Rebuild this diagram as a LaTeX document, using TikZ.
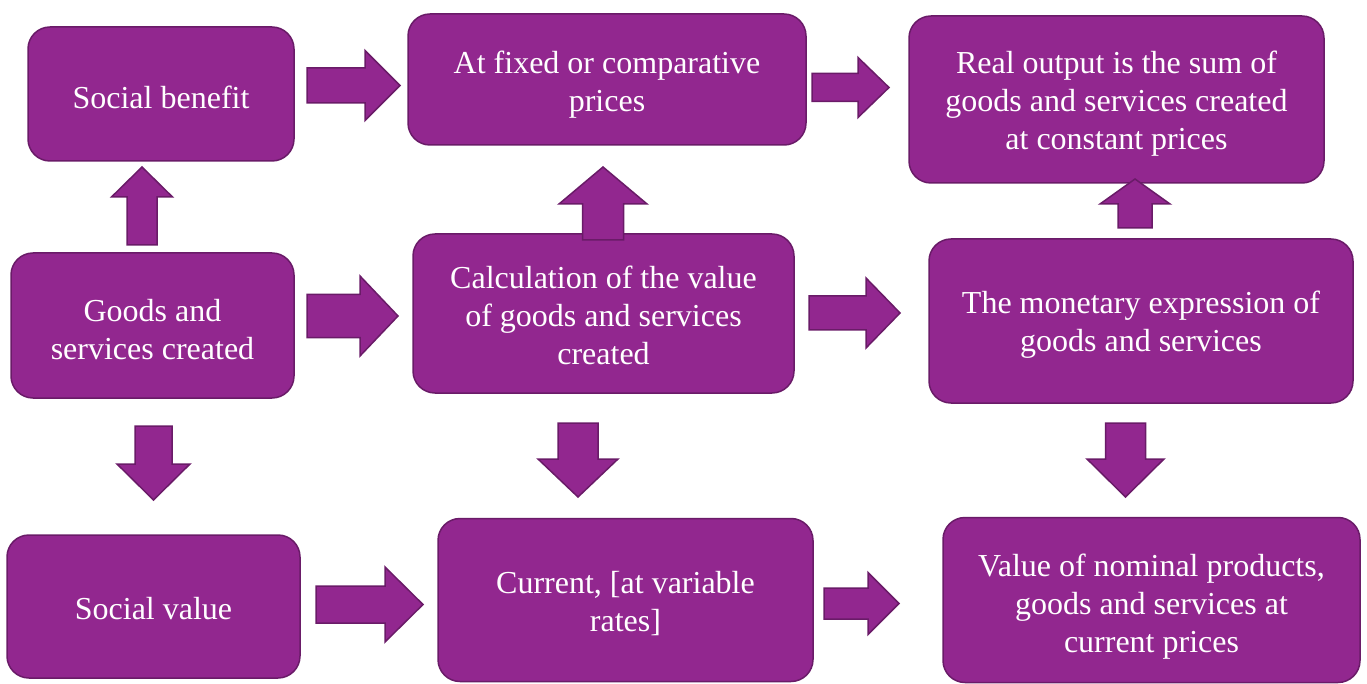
\documentclass[tikz,border=0pt]{standalone}
\usepackage{fontspec}
\setmainfont{Liberation Serif}
\definecolor{boxfill}{HTML}{92278F}
\definecolor{boxline}{HTML}{6A1B68}
\newcommand{\harr}[6]{\draw[barrow] (#1,#4-#5) -- (#2,#4-#5) -- (#2,#4-#6) -- (#3,#4) -- (#2,#4+#6) -- (#2,#4+#5) -- (#1,#4+#5) -- cycle;}
\newcommand{\varr}[6]{\draw[barrow] (#4-#5,#1) -- (#4-#5,#2) -- (#4-#6,#2) -- (#4,#3) -- (#4+#6,#2) -- (#4+#5,#2) -- (#4+#5,#1) -- cycle;}
\begin{document}
\begin{tikzpicture}[x=1pt,y=-1pt,
  box/.style={draw=boxline, fill=boxfill, line width=1.5pt, rounded corners=22pt, inner sep=0pt},
  lbl/.style={text=white, align=center, inner sep=0pt,
    font=\fontsize{32}{38}\selectfont},
  barrow/.style={draw=boxline, fill=boxfill, line width=1.5pt, line join=miter}]
\useasboundingbox (0,0) rectangle (1367,684);
% boxes
\node[box, minimum width=266pt, minimum height=134pt] (sb) at (161,94) {};
\node[box, minimum width=398pt, minimum height=131pt] (af) at (607,79.5) {};
\node[box, minimum width=415pt, minimum height=167pt] (ro) at (1116.5,99.5) {};
\node[box, minimum width=283pt, minimum height=145pt] (gs) at (152.5,325.5) {};
\node[box, minimum width=381pt, minimum height=159pt] (ca) at (603.5,313.5) {};
\node[box, minimum width=424pt, minimum height=164pt] (me) at (1141,321) {};
\node[box, minimum width=293pt, minimum height=143pt] (sv) at (153.5,606.5) {};
\node[box, minimum width=375pt, minimum height=163pt] (cu) at (625.5,600) {};
\node[box, minimum width=417pt, minimum height=165pt] (vn) at (1151.5,600) {};
% labels
\node[lbl] at ([yshift=-3pt]sb.center) {Social benefit};
\node[lbl] at ([yshift=-5pt]af.center) {At fixed or comparative\\prices};
\node[lbl] at ([yshift=-4pt]ro.center) {Real output is the sum of\\goods and services created\\at constant prices};
\node[lbl] at ([yshift=-4pt]gs.center) {Goods and\\services created};
\node[lbl] at ([yshift=-2pt]ca.center) {Calculation of the value\\of goods and services\\created};
\node[lbl] at ([yshift=-4pt]me.center) {The monetary expression of\\goods and services};
\node[lbl] at ([yshift=-2pt]sv.center) {Social value};
\node[lbl] at ([yshift=-4pt]cu.center) {Current, [at variable\\rates]};
\node[lbl] at ([yshift=-7pt]vn.center) {Value of nominal products,\\goods and services at\\current prices};
% block arrows (sb->af, af->ro, gs->ca, ca->me, sv->cu, cu->vn)
\harr{307}{365}{400}{85.5}{17.5}{35}
\harr{812}{858}{889}{87.5}{14}{30}
\harr{307}{360}{398}{316}{21.5}{40}
\harr{809}{866}{900}{313}{17}{35}
\harr{316}{385}{423}{604.5}{18.5}{37.5}
\harr{824}{868}{899}{603.5}{15.5}{31}
% vertical block arrows (gs->sb, ca->af, me->ro, gs->sv, ca->cu, me->vn)
\varr{245}{197}{167}{142}{15}{30.5}
\varr{240}{204}{167}{603}{20.5}{44}
\varr{228}{204}{179}{1135}{17}{35}
\varr{426}{464}{500}{153.5}{18.5}{36.5}
\varr{423}{459}{497}{578}{20}{40}
\varr{423}{459}{497}{1125.5}{20}{38.5}
\end{tikzpicture}
\end{document}
